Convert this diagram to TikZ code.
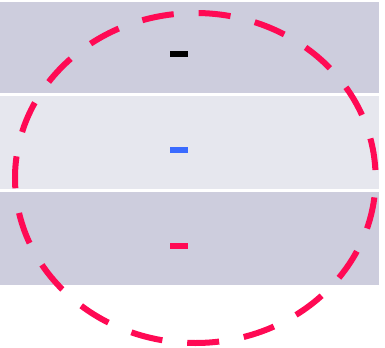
\documentclass[tikz,border=0pt]{standalone}
\usetikzlibrary{positioning}
\definecolor{banddark}{HTML}{CDCDDD}
\definecolor{bandlight}{HTML}{E6E7EE}
\definecolor{ringred}{HTML}{FF0A54}
\definecolor{barblue}{HTML}{3A6BFF}
\begin{document}
\begin{tikzpicture}[
    x=0.75pt, y=0.75pt,
    % Define shape styles
    bandfill/.style={
        draw=none
    },
    barfill/.style={
        draw=none
    },
    ringline/.style={
        draw=ringred,
        line width=4.5pt,
        dash pattern=on 24pt off 18.75pt,
        dash phase=36.75pt
    }
]
    \useasboundingbox (0, 0) rectangle (385, 347);
    % --- horizontal bands ---
    \fill[bandfill, banddark] (0, 254) rectangle (379, 345);
    \fill[bandfill, bandlight] (0, 158) rectangle (379, 251);
    \fill[bandfill, banddark] (0, 62) rectangle (379, 155);

    % --- small bars ---
    \fill[barfill, black] (170, 290) rectangle (188, 296);
    \fill[barfill, barblue] (170, 194) rectangle (188, 200);
    \fill[barfill, ringred] (170, 98) rectangle (188, 104);

    % --- dashed ring ---
    \draw[ringline] (195.3, 169) ellipse [x radius=180.3, y radius=165];
\end{tikzpicture}
\end{document}
